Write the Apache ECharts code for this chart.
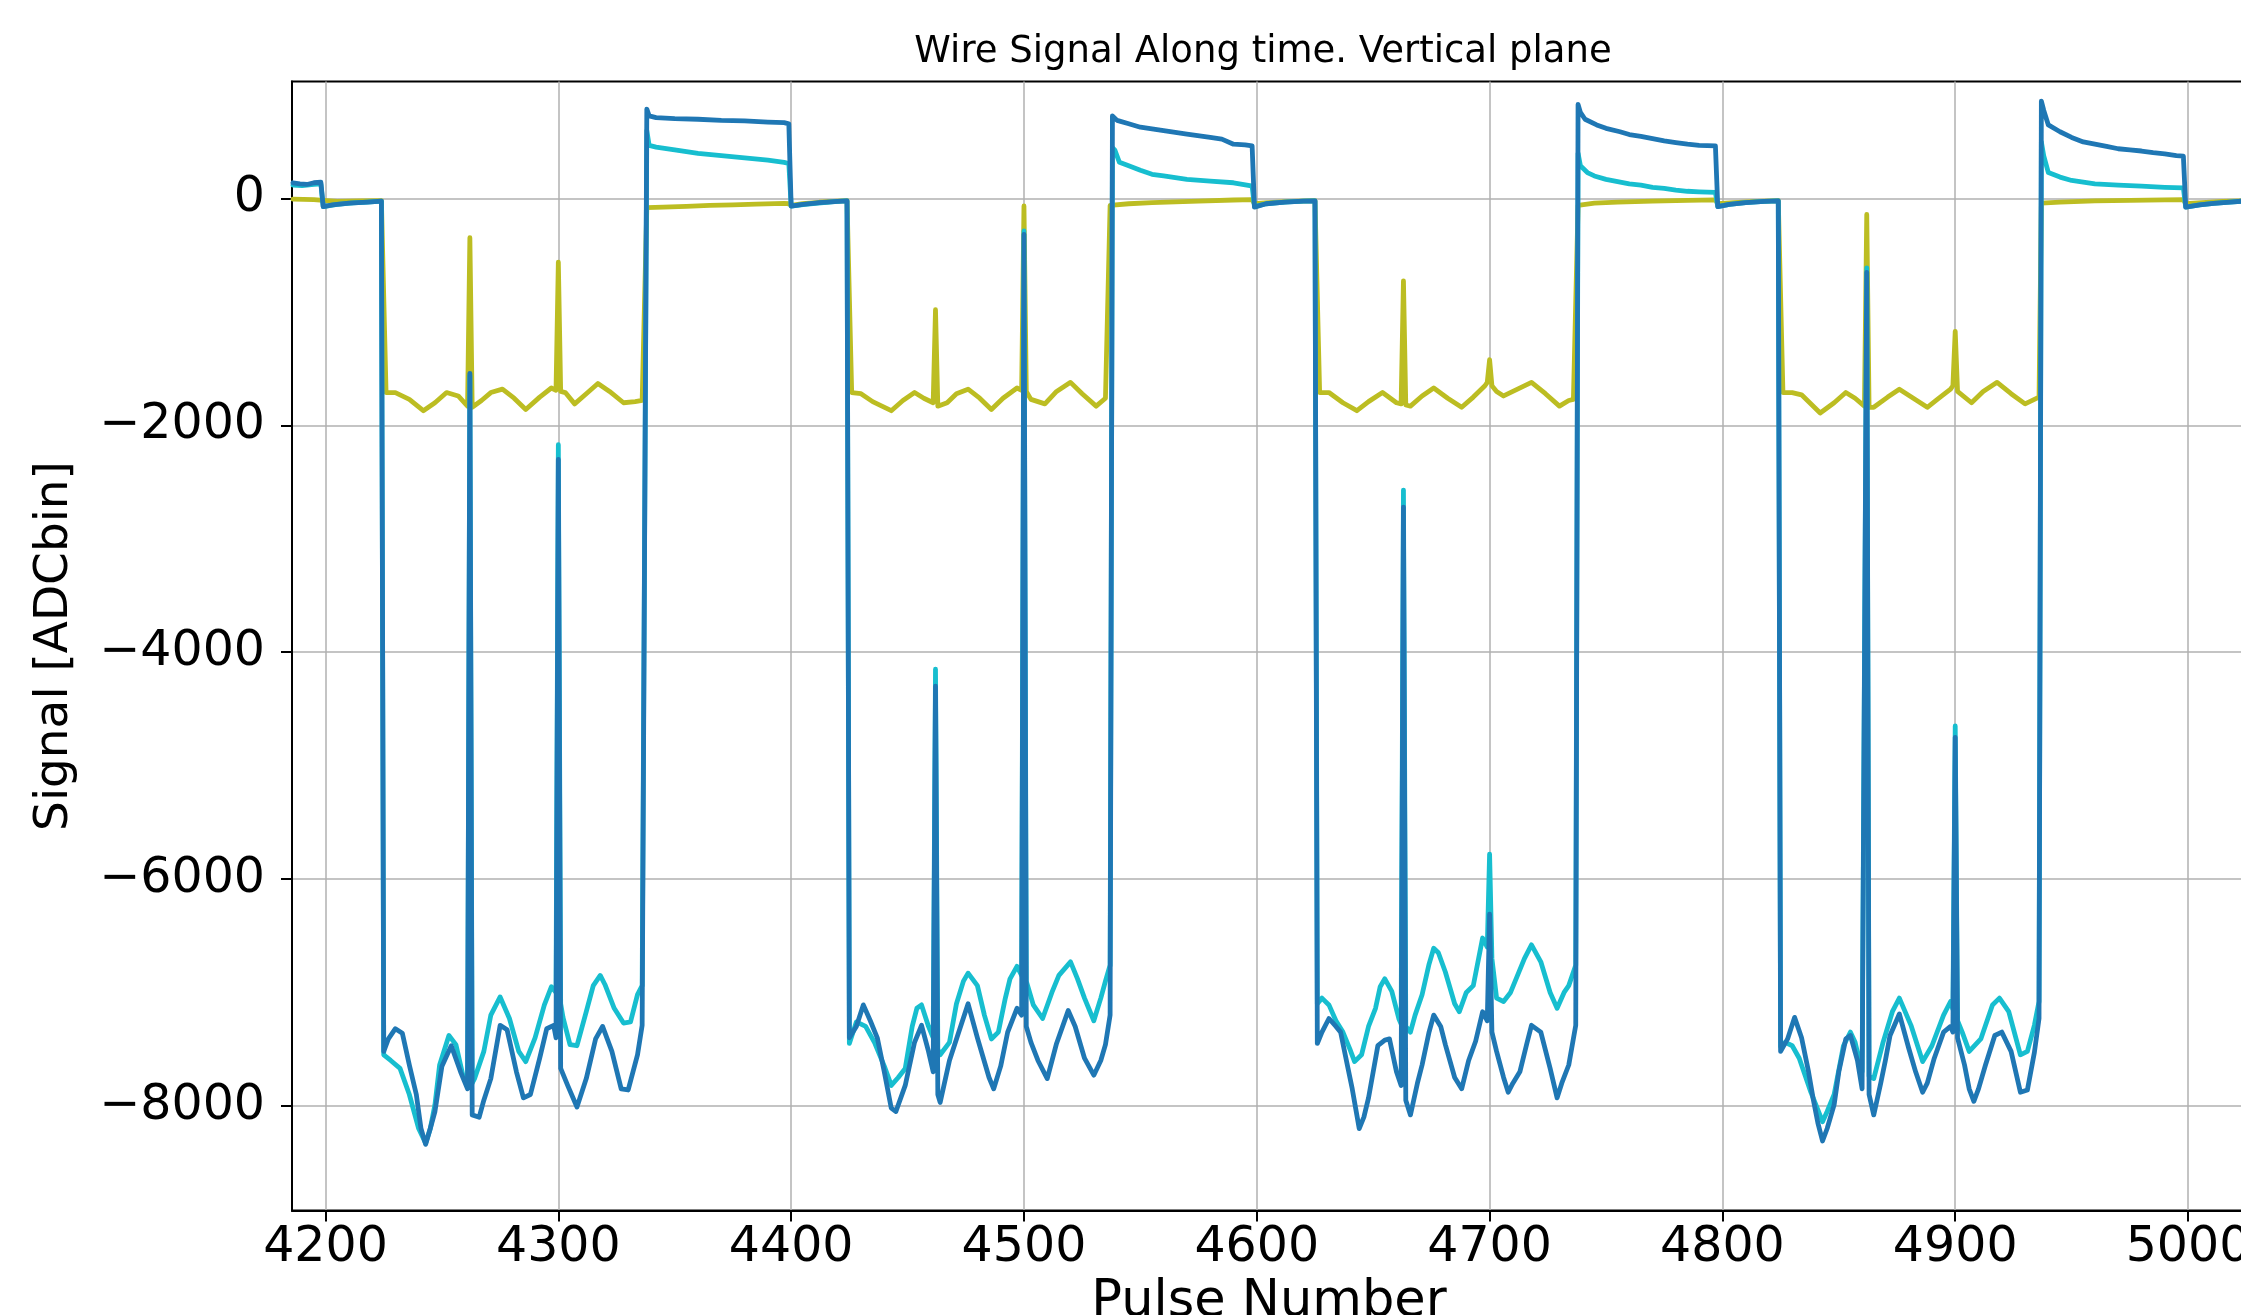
<!DOCTYPE html>
<html>
<head>
<meta charset="utf-8">
<title>Wire Signal Along time</title>
<script src="https://cdn.jsdelivr.net/npm/echarts@6/dist/echarts.min.js"></script>
<style>
    html, body { margin: 0; padding: 0; background: #fff; }
    #chart { width: 2241px; height: 1315px; }
</style>
</head>
<body>
<div id="chart"></div>
<script>
/* globals echarts */
// Wire signal, vertical plane: three wires, [pulse, ADC bin]

var TITLE = 'Wire Signal Along time. Vertical plane';

var X_MIN = 4185.6;
var X_MAX = 5024.9;
var Y_MIN = -8923;
var Y_MAX = 1033;

var xTicks = [4200, 4300, 4400, 4500, 4600, 4700, 4800, 4900, 5000];
var yTicks = [-8000, -6000, -4000, -2000, 0];

// olive wire
var oliveSignal = [
    [4186, -5], [4195, -8], [4199, -15], [4205, -25], [4215, -20], [4224, -18],
    [4226, -1710], [4230, -1710], [4236, -1770], [4242, -1870], [4247, -1800], [4252, -1710],
    [4257, -1740], [4261, -1830], [4262, -345], [4263, -1840], [4267, -1780], [4271, -1710],
    [4276, -1680], [4281, -1760], [4286, -1860], [4292, -1750], [4297, -1670], [4299, -1690],
    [4300, -560], [4301, -1700], [4303, -1710], [4307, -1810], [4312, -1720], [4317, -1630],
    [4322, -1700], [4328, -1800], [4333, -1790], [4336, -1780],
    [4338, -80], [4345, -75], [4355, -68], [4365, -60], [4375, -55], [4385, -48], [4397, -42],
    [4399, -45], [4400, -60], [4405, -45], [4412, -32], [4420, -22], [4424, -18],
    [4426, -1710], [4430, -1720], [4435, -1790], [4443, -1870], [4448, -1780], [4453, -1710],
    [4457, -1760], [4461, -1800], [4462, -980], [4463, -1830], [4467, -1800], [4471, -1720],
    [4476, -1680], [4481, -1760], [4486, -1860], [4491, -1760], [4497, -1670], [4499, -1690],
    [4500, -65], [4501, -1700], [4503, -1770], [4509, -1810], [4514, -1700], [4520, -1620],
    [4525, -1720], [4531, -1830], [4535, -1760],
    [4537, -60], [4545, -45], [4555, -35], [4565, -28], [4575, -22], [4590, -12], [4598, -8],
    [4599, -45], [4605, -35], [4615, -25], [4625, -18],
    [4627, -1710], [4631, -1710], [4637, -1800], [4643, -1870], [4648, -1790], [4654, -1710],
    [4660, -1800], [4662, -1810], [4663, -725], [4664, -1820], [4666, -1830], [4671, -1740],
    [4676, -1670], [4682, -1760], [4688, -1840], [4693, -1750], [4698, -1650], [4699, -1620],
    [4700, -1420], [4701, -1650], [4703, -1700], [4706, -1740], [4712, -1680], [4718, -1620],
    [4724, -1720], [4730, -1830], [4734, -1780], [4736, -1770],
    [4738, -60], [4745, -40], [4755, -30], [4770, -22], [4785, -15], [4797, -10],
    [4798, -45], [4805, -35], [4815, -25], [4824, -18],
    [4826, -1710], [4830, -1710], [4834, -1730], [4842, -1890], [4848, -1800], [4853, -1710],
    [4857, -1760], [4861, -1830], [4862, -140], [4863, -1840], [4865, -1840], [4871, -1750],
    [4876, -1680], [4882, -1760], [4888, -1840], [4893, -1760], [4898, -1680], [4899, -1650],
    [4900, -1170], [4901, -1700], [4907, -1800], [4912, -1700], [4918, -1620], [4924, -1720],
    [4930, -1810], [4934, -1770], [4936, -1750],
    [4937, -40], [4945, -30], [4960, -20], [4975, -15], [4990, -10], [4998, -8],
    [4999, -45], [5006, -35], [5015, -25], [5025, -18]
];

// cyan wire
var cyanSignal = [
    [4186, 120], [4190, 115], [4195, 125], [4198, 130], [4199, -70], [4205, -50], [4212, -38],
    [4218, -30], [4224, -22],
    [4225, -7550], [4228, -7600], [4232, -7670], [4236, -7900], [4240, -8200], [4243, -8330],
    [4245, -8200], [4247, -7990], [4249, -7640], [4253, -7380], [4256, -7460], [4259, -7730],
    [4261, -7820], [4262, -1560], [4263, -7800], [4264, -7760], [4268, -7520], [4271, -7200],
    [4275, -7040], [4279, -7230], [4283, -7520], [4286, -7610], [4290, -7400], [4294, -7110],
    [4297, -6950], [4299, -7000], [4300, -2170], [4301, -7100], [4302, -7220], [4305, -7460],
    [4308, -7470], [4312, -7170], [4315, -6940], [4318, -6850], [4320, -6930], [4324, -7140],
    [4328, -7270], [4331, -7260], [4334, -7020], [4336, -6940],
    [4338, 600], [4339, 470], [4342, 455], [4350, 430], [4360, 400], [4370, 380], [4380, 360],
    [4390, 340], [4397, 320], [4399, 310], [4400, -65], [4406, -50], [4414, -35], [4420, -25],
    [4424, -20],
    [4425, -7450], [4428, -7260], [4432, -7300], [4436, -7450], [4440, -7650], [4443, -7820],
    [4446, -7750], [4449, -7670], [4452, -7300], [4454, -7140], [4456, -7110], [4459, -7300],
    [4461, -7400], [4462, -4150], [4463, -7500], [4464, -7550], [4468, -7440], [4471, -7100],
    [4474, -6900], [4476, -6830], [4480, -6940], [4483, -7200], [4486, -7410], [4489, -7350],
    [4492, -7050], [4494, -6880], [4497, -6770], [4499, -6850], [4500, -285], [4501, -6900],
    [4504, -7110], [4508, -7230], [4512, -7000], [4515, -6850], [4520, -6730], [4523, -6880],
    [4526, -7050], [4530, -7250], [4533, -7050], [4535, -6900], [4537, -6760],
    [4538, 450], [4539, 430], [4541, 320], [4545, 290], [4550, 250], [4555, 215], [4560, 200],
    [4570, 170], [4580, 155], [4590, 140], [4597, 115], [4598, 110], [4599, -70], [4604, -45],
    [4612, -30], [4620, -22], [4625, -20],
    [4626, -7100], [4628, -7050], [4631, -7110], [4634, -7250], [4637, -7350], [4640, -7500],
    [4642, -7610], [4645, -7550], [4648, -7300], [4651, -7140], [4653, -6950], [4655, -6880],
    [4658, -6990], [4661, -7230], [4662, -7280], [4663, -2570], [4664, -7300], [4666, -7350],
    [4668, -7200], [4671, -7020], [4674, -6750], [4676, -6610], [4678, -6650], [4681, -6820],
    [4685, -7100], [4687, -7170], [4690, -7000], [4693, -6940], [4697, -6520], [4699, -6600],
    [4700, -5780], [4701, -6700], [4703, -7050], [4706, -7080], [4709, -7000], [4712, -6850],
    [4715, -6700], [4718, -6580], [4722, -6730], [4726, -7000], [4729, -7140], [4732, -7000],
    [4734, -6940], [4737, -6760],
    [4738, 400], [4739, 290], [4742, 230], [4745, 200], [4750, 170], [4755, 150], [4760, 130],
    [4765, 120], [4770, 100], [4775, 90], [4780, 75], [4785, 65], [4790, 60], [4797, 55],
    [4798, -70], [4803, -50], [4810, -35], [4818, -25], [4824, -20],
    [4825, -7480], [4827, -7440], [4830, -7470], [4833, -7580], [4838, -7880], [4843, -8140],
    [4845, -8050], [4848, -7900], [4852, -7470], [4855, -7350], [4857, -7440], [4860, -7700],
    [4862, -610], [4863, -7740], [4865, -7760], [4869, -7440], [4873, -7170], [4876, -7050],
    [4881, -7290], [4886, -7610], [4890, -7470], [4895, -7200], [4898, -7080], [4899, -7150],
    [4900, -4650], [4901, -7250], [4903, -7350], [4906, -7520], [4911, -7410], [4916, -7110],
    [4919, -7050], [4923, -7170], [4928, -7550], [4931, -7520], [4934, -7290], [4936, -7080],
    [4937, 500], [4938, 380], [4940, 230], [4945, 190], [4950, 160], [4960, 130], [4970, 120],
    [4980, 110], [4990, 100], [4998, 95], [4999, -75], [5005, -55], [5011, -42], [5018, -30],
    [5025, -20]
];

// blue wire
var blueSignal = [
    [4186, 140], [4189, 130], [4192, 125], [4195, 140], [4198, 145], [4199, -70], [4203, -55],
    [4210, -40], [4218, -30], [4224, -22],
    [4225, -7520], [4227, -7410], [4230, -7320], [4233, -7360], [4236, -7640], [4239, -7900],
    [4241, -8200], [4243, -8340], [4245, -8200], [4247, -8050], [4250, -7650], [4254, -7470],
    [4258, -7700], [4261, -7850], [4262, -1540], [4263, -8080], [4266, -8100], [4268, -7950],
    [4271, -7760], [4275, -7290], [4278, -7330], [4282, -7700], [4285, -7930], [4288, -7900],
    [4292, -7580], [4295, -7320], [4298, -7290], [4299, -7400], [4300, -2300], [4301, -7670],
    [4304, -7820], [4308, -8010], [4312, -7760], [4316, -7410], [4319, -7300], [4323, -7520],
    [4327, -7850], [4330, -7860], [4334, -7550], [4336, -7290],
    [4338, 790], [4339, 730], [4342, 715], [4350, 705], [4360, 700], [4370, 690], [4380, 685],
    [4390, 675], [4397, 670], [4399, 660], [4400, -65], [4405, -50], [4412, -35], [4420, -25],
    [4424, -20],
    [4425, -7400], [4428, -7300], [4431, -7110], [4434, -7250], [4437, -7400], [4440, -7700],
    [4443, -8020], [4445, -8050], [4449, -7820], [4453, -7440], [4456, -7290], [4459, -7520],
    [4461, -7700], [4462, -4300], [4463, -7900], [4464, -7970], [4468, -7600], [4472, -7350],
    [4476, -7100], [4480, -7400], [4485, -7750], [4487, -7850], [4490, -7650], [4493, -7350],
    [4497, -7140], [4499, -7200], [4500, -315], [4501, -7300], [4503, -7440], [4506, -7600],
    [4510, -7760], [4514, -7450], [4519, -7160], [4522, -7300], [4526, -7580], [4530, -7730],
    [4533, -7600], [4535, -7460], [4537, -7200],
    [4538, 730], [4540, 690], [4545, 660], [4550, 630], [4560, 600], [4570, 570], [4580, 540],
    [4585, 525], [4590, 480], [4595, 475], [4598, 465], [4599, -75], [4604, -45], [4612, -30],
    [4620, -22], [4625, -20],
    [4626, -7450], [4628, -7350], [4631, -7230], [4634, -7300], [4636, -7350], [4639, -7650],
    [4641, -7850], [4644, -8200], [4646, -8100], [4648, -7930], [4650, -7700], [4652, -7470],
    [4655, -7420], [4657, -7410], [4660, -7700], [4662, -7820], [4663, -2720], [4664, -7950],
    [4666, -8080], [4669, -7800], [4671, -7640], [4674, -7350], [4676, -7200], [4679, -7300],
    [4681, -7460], [4685, -7750], [4688, -7850], [4691, -7600], [4694, -7430], [4697, -7170],
    [4699, -7250], [4700, -6310], [4701, -7350], [4703, -7520], [4706, -7750], [4708, -7880],
    [4710, -7800], [4713, -7700], [4716, -7450], [4718, -7290], [4722, -7350], [4726, -7670],
    [4729, -7930], [4731, -7800], [4734, -7640], [4737, -7290],
    [4738, 830], [4739, 760], [4741, 700], [4746, 650], [4750, 620], [4756, 590], [4760, 565],
    [4765, 550], [4770, 530], [4775, 510], [4780, 495], [4785, 480], [4790, 470], [4797, 465],
    [4798, -70], [4803, -50], [4810, -35], [4818, -25], [4824, -20],
    [4825, -7520], [4828, -7410], [4831, -7220], [4834, -7400], [4837, -7700], [4839, -7940],
    [4841, -8150], [4843, -8310], [4845, -8200], [4848, -7990], [4850, -7700], [4853, -7410],
    [4855, -7380], [4858, -7600], [4860, -7850], [4862, -650], [4863, -7900], [4865, -8080],
    [4868, -7800], [4870, -7600], [4872, -7380], [4876, -7190], [4880, -7490], [4883, -7700],
    [4886, -7880], [4888, -7800], [4891, -7580], [4895, -7350], [4898, -7300], [4899, -7350],
    [4900, -4750], [4901, -7400], [4904, -7640], [4906, -7850], [4908, -7960], [4910, -7850],
    [4913, -7640], [4917, -7380], [4920, -7350], [4924, -7520], [4928, -7880], [4931, -7860],
    [4934, -7530], [4936, -7230],
    [4937, 860], [4938, 780], [4940, 650], [4945, 590], [4950, 540], [4955, 500], [4960, 480],
    [4965, 460], [4970, 440], [4975, 430], [4980, 420], [4985, 405], [4990, 395], [4995, 380],
    [4998, 375], [4999, -75], [5005, -55], [5011, -42], [5018, -30], [5025, -20]
];

var FONT = 'DejaVu Sans';

function plainNumber(v) {
    return String(v).replace('-', '\u2212');
}

function wire(name, color, points) {
    return {
        type: 'line',
        name: name,
        data: points,
        showSymbol: false,
        symbol: 'none',
        sampling: null,
        clip: true,
        lineStyle: { color: color, width: 4.8, join: 'round', cap: 'round' },
        itemStyle: { color: color },
        emphasis: { disabled: true }
    };
}

var chart = echarts.init(document.getElementById('chart'), null, { renderer: 'canvas' });

chart.setOption({
    animation: false,
    backgroundColor: '#ffffff',
    textStyle: { fontFamily: FONT },
    title: {
        text: TITLE,
        left: 1258,
        top: 29,
        textAlign: 'center',
        textStyle: { fontFamily: FONT, fontSize: 37, fontWeight: 'normal', color: '#000' }
    },
    grid: {
        left: 292,
        right: -5,
        top: 81.5,
        bottom: 104.5,
        show: true,
        borderColor: '#000',
        borderWidth: 2,
        containLabel: false,
        outerBoundsMode: 'none'
    },
    xAxis: {
        type: 'value',
        min: X_MIN,
        max: X_MAX,
        name: 'Pulse Number',
        nameLocation: 'middle',
        nameGap: 66,
        nameTextStyle: { fontFamily: FONT, fontSize: 51, color: '#000' },
        axisLine: { show: true, onZero: false, lineStyle: { color: '#000', width: 2 } },
        axisTick: { show: true, inside: false, length: 11, customValues: xTicks, lineStyle: { color: '#000', width: 2 } },
        axisLabel: { customValues: xTicks, margin: 13, fontFamily: FONT, fontSize: 49, color: '#000', formatter: plainNumber },
        splitLine: { show: true, lineStyle: { color: '#b0b0b0', width: 1.5 } }
    },
    yAxis: {
        type: 'value',
        min: Y_MIN,
        max: Y_MAX,
        name: 'Signal [ADCbin]',
        nameLocation: 'middle',
        nameGap: 214,
        nameTextStyle: { fontFamily: FONT, fontSize: 47, color: '#000' },
        axisLine: { show: true, onZero: false, lineStyle: { color: '#000', width: 2 } },
        axisTick: { show: true, inside: false, length: 11, customValues: yTicks, lineStyle: { color: '#000', width: 2 } },
        axisLabel: { customValues: yTicks, margin: 27, fontFamily: FONT, fontSize: 49, color: '#000', formatter: plainNumber },
        splitLine: { show: true, lineStyle: { color: '#b0b0b0', width: 1.5 } }
    },
    series: [
        wire('olive', '#bcbd22', oliveSignal),
        wire('cyan', '#17becf', cyanSignal),
        wire('blue', '#1f77b4', blueSignal)
    ]
});

window.addEventListener('resize', function () {
    chart.resize();
});
</script>
</body>
</html>
